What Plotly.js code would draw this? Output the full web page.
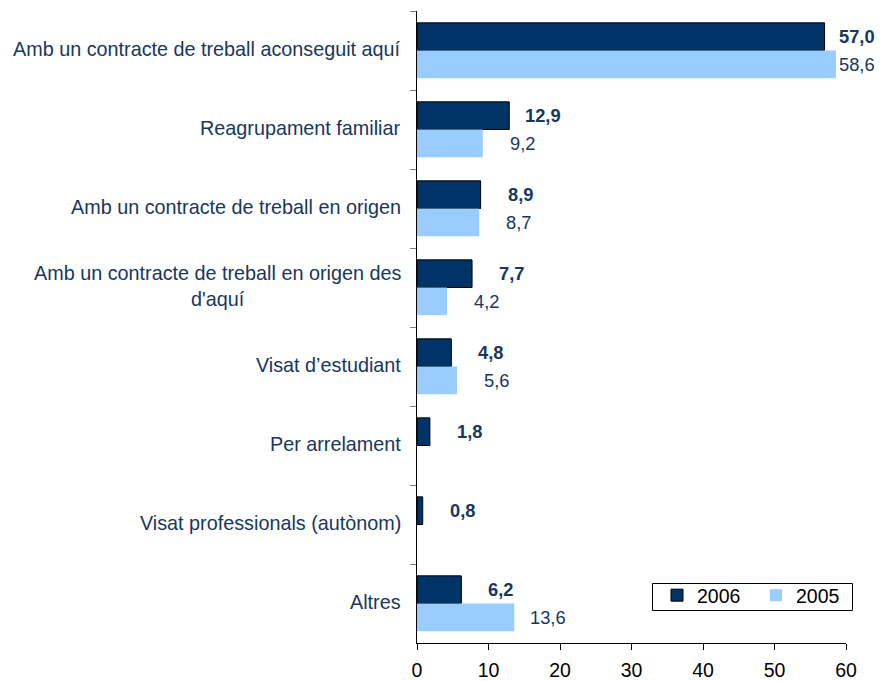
<!DOCTYPE html>
<html><head><meta charset="utf-8">
<script src="https://cdn.plot.ly/plotly-3.0.1.min.js"></script>
<style>html,body{margin:0;padding:0;background:#fff;overflow:hidden}</style>
</head><body><div id="chart" style="width:883px;height:681px"></div>
<script>
const categories = [
  "Amb un contracte de treball aconseguit aquí",
  "Reagrupament familiar",
  "Amb un contracte de treball en origen",
  "Amb un contracte de treball en origen des<br>d'aquí",
  "Visat d’estudiant",
  "Per arrelament",
  "Visat professionals (autònom)",
  "Altres"
];
const values2006 = [57.0, 12.9, 8.9, 7.7, 4.8, 1.8, 0.8, 6.2];
const values2005 = [58.6, 9.2, 8.7, 4.2, 5.6, null, null, 13.6];
const seriesNames = ["2006", "2005"];
const xTickValues = [0, 10, 20, 30, 40, 50, 60];

const W = 883, H = 681;
const M = {l: 417, r: 37, t: 11, b: 38};
const plotW = W - M.l - M.r, plotH = H - M.t - M.b;
const xMax = 60;
const bargap = 0.30;
const FONT = "Liberation Sans, Arial, sans-serif";
const FS = 19.5;
const FS_CAT = 19.8;
const FS_VAL = 18.3;
const textBlue = "#17375E";

const bandPx = plotH / categories.length;
const barPx = bandPx * (1 - bargap) / 2;
const fmt = v => v.toFixed(1).replace(".", ",");
const px2x = p => (p - M.l) / plotW;
const py2y = p => (H - M.b - p) / plotH;

const ids = categories.map((c, i) => "c" + i);

const traces = [
  {type: "bar", orientation: "h", name: seriesNames[0], y: ids, x: values2006,
   marker: {color: "#003366", line: {color: "#000", width: 1}}, hoverinfo: "x"},
  {type: "bar", orientation: "h", name: seriesNames[1], y: ids, x: values2005,
   marker: {color: "#99CCFF", line: {width: 0}}, hoverinfo: "x"}
];

const annotations = [];
function valueLabel(v, i, bold, dy) {
  if (v === null) return;
  const endPx = M.l + v * plotW / xMax;
  const shift = Math.min(54, (W - 6) - endPx);
  annotations.push({
    x: v, y: ids[i], xref: "x", yref: "y", xanchor: "right", yanchor: "middle",
    xshift: shift, yshift: dy, showarrow: false,
    text: bold ? "<b>" + fmt(v) + "</b>" : fmt(v),
    font: {family: FONT, size: FS_VAL, color: textBlue}
  });
}
values2006.forEach((v, i) => valueLabel(v, i, true, barPx / 2));
values2005.forEach((v, i) => valueLabel(v, i, false, -barPx / 2));
categories.forEach((c, i) => {
  annotations.push({
    x: 0, y: ids[i], xref: "paper", yref: "y", xanchor: "right", yanchor: "middle",
    xshift: -14, yshift: 2, showarrow: false, align: "center", text: c,
    font: {family: FONT, size: FS_CAT, color: textBlue}
  });
});

const layout = {
  width: W, height: H, margin: M,
  paper_bgcolor: "#fff", plot_bgcolor: "#fff",
  font: {family: FONT, size: FS, color: "#000"},
  barmode: "group", bargap: bargap, bargroupgap: 0,
  showlegend: true,
  legend: {orientation: "h", x: px2x(657), y: py2y(576),
           xanchor: "left", yanchor: "top", borderwidth: 0,
           bgcolor: "rgba(0,0,0,0)", entrywidth: 54, entrywidthmode: "pixels",
           font: {family: FONT, size: FS, color: "#000"}, traceorder: "normal"},
  shapes: [{type: "rect", xref: "paper", yref: "paper",
            x0: px2x(652.5), x1: px2x(852.5), y0: py2y(610.5), y1: py2y(583.5),
            line: {color: "#000", width: 1}, fillcolor: "#fff", layer: "above"}],
  xaxis: {range: [0, xMax], tickvals: xTickValues, ticktext: xTickValues.map(String),
          ticks: "outside", ticklen: 6, tickcolor: "#000", showline: true, linecolor: "#000",
          linewidth: 1, showgrid: false, zeroline: false, fixedrange: true,
          ticklabelstandoff: 4,
          tickfont: {family: FONT, size: FS, color: "#000"}},
  yaxis: {type: "category", categoryorder: "array", categoryarray: ids,
          range: [categories.length - 0.5, -0.5], tickson: "boundaries",
          ticks: "outside", ticklen: 6, tickcolor: "#808080", showline: true,
          linecolor: "#000", linewidth: 1, showgrid: false, zeroline: false,
          showticklabels: false, fixedrange: true},
  annotations: annotations
};

Plotly.newPlot("chart", traces, layout, {displayModeBar: false, staticPlot: true});
</script>
</body></html>
